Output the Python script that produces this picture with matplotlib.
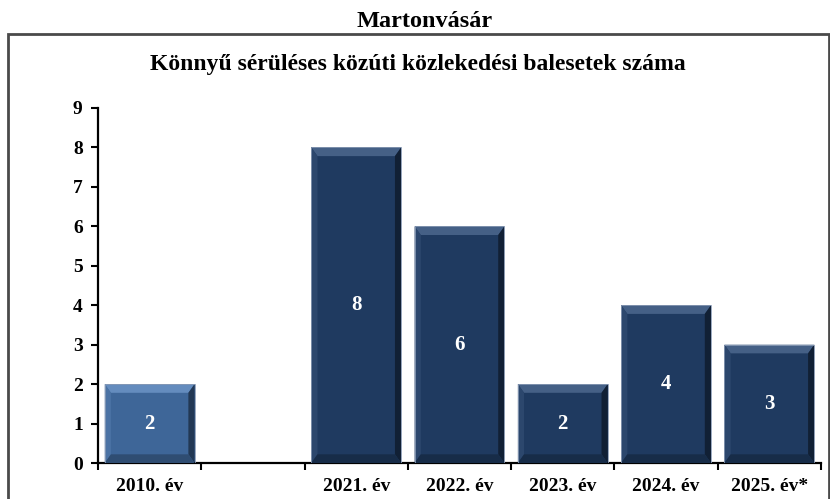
import numpy as np
import matplotlib
matplotlib.use("Agg")
import matplotlib.pyplot as plt
from matplotlib.patches import Polygon, Rectangle

categories = ["2010. év", "", "2021. év", "2022. év", "2023. év", "2024. év", "2025. év*"]
values = [2, np.nan, 8, 6, 2, 4, 3]
bar_colors = ["#3E6698", "#1F3A60", "#1F3A60", "#1F3A60", "#1F3A60", "#1F3A60", "#1F3A60"]
outer_title = "Martonvásár"
inner_title = "Könnyű sérüléses közúti közlekedési balesetek száma"
yticks = list(range(0, 10))

plt.rcParams['font.family'] = ['Liberation Serif', 'DejaVu Serif']
plt.rcParams['font.weight'] = 'bold'

fig = plt.figure(figsize=(8.3, 4.99), dpi=100)
W, H = 830, 499

# outer frame
fig.patches.append(Rectangle((8 / W, -0.05), (829 - 8) / W, (499 - 34) / H + 0.05,
                             transform=fig.transFigure, fill=False,
                             edgecolor="#4a4a4a", linewidth=2))
fig.text(425 / W, 1 - 27 / H, outer_title, ha="center", va="baseline",
         fontsize=17.5, fontweight="bold")
fig.text(418 / W, 1 - 70 / H, inner_title, ha="center", va="baseline",
         fontsize=17, fontweight="bold")

ax = fig.add_axes([98 / W, 1 - 463 / H, (821 - 98) / W, (463 - 108) / H])
x = np.arange(len(categories))
bars = ax.bar(x, values, width=0.87, color=bar_colors, edgecolor="none", zorder=2)

ax.set_xlim(-0.5, len(categories) - 0.5)
ax.set_ylim(0, 9)
ax.set_yticks(yticks)
ax.set_yticklabels([str(t) for t in yticks], fontsize=14, fontweight="bold")
ax.set_xticks(x)
ax.set_xticklabels(categories, fontsize=14, fontweight="bold")
ax.set_xticks(np.arange(-0.5, len(categories)), minor=True)
ax.tick_params(axis="x", which="major", length=0, pad=11)
ax.tick_params(axis="x", which="minor", length=5, width=1.5, direction="out")
ax.tick_params(axis="y", length=5, width=1.5, direction="out", pad=6)
for s in ["top", "right"]:
    ax.spines[s].set_visible(False)
for s in ["left", "bottom"]:
    ax.spines[s].set_linewidth(1.6)
    ax.spines[s].set_color("black")

# bevel effect derived from each bar
dx, dy = 0.06, 0.22
for b, v, c in zip(bars, values, bar_colors):
    if np.isnan(v):
        continue
    x0, y0 = b.get_x(), b.get_y()
    w, h = b.get_width(), b.get_height()
    x1, y1 = x0 + w, y0 + h
    base = np.array(matplotlib.colors.to_rgb(c))
    light = np.clip(base + 0.15, 0, 1)
    lighter = np.clip(base + 0.05, 0, 1)
    dark = np.clip(base * 0.55, 0, 1)
    darker = np.clip(base * 0.75, 0, 1)
    top = Polygon([(x0, y1), (x1, y1), (x1 - dx, y1 - dy), (x0 + dx, y1 - dy)],
                  closed=True, facecolor=light, edgecolor="none", zorder=3)
    left = Polygon([(x0, y0), (x0, y1), (x0 + dx, y1 - dy), (x0 + dx, y0 + dy)],
                   closed=True, facecolor=lighter, edgecolor="none", zorder=3)
    right = Polygon([(x1, y0), (x1, y1), (x1 - dx, y1 - dy), (x1 - dx, y0 + dy)],
                    closed=True, facecolor=dark, edgecolor="none", zorder=3)
    bottom = Polygon([(x0, y0), (x1, y0), (x1 - dx, y0 + dy), (x0 + dx, y0 + dy)],
                     closed=True, facecolor=darker, edgecolor="none", zorder=3)
    for p in (top, left, right, bottom):
        ax.add_patch(p)
    ax.add_patch(Rectangle((x0, y0), w, h, fill=False, edgecolor="#8a9bb5",
                           linewidth=0.6, zorder=4))
    ax.text(b.get_x() + w / 2, h / 2, f"{int(v)}", ha="center", va="center",
            color="white", fontsize=15, fontweight="bold", zorder=5)

fig.savefig("out.png", dpi=100)
